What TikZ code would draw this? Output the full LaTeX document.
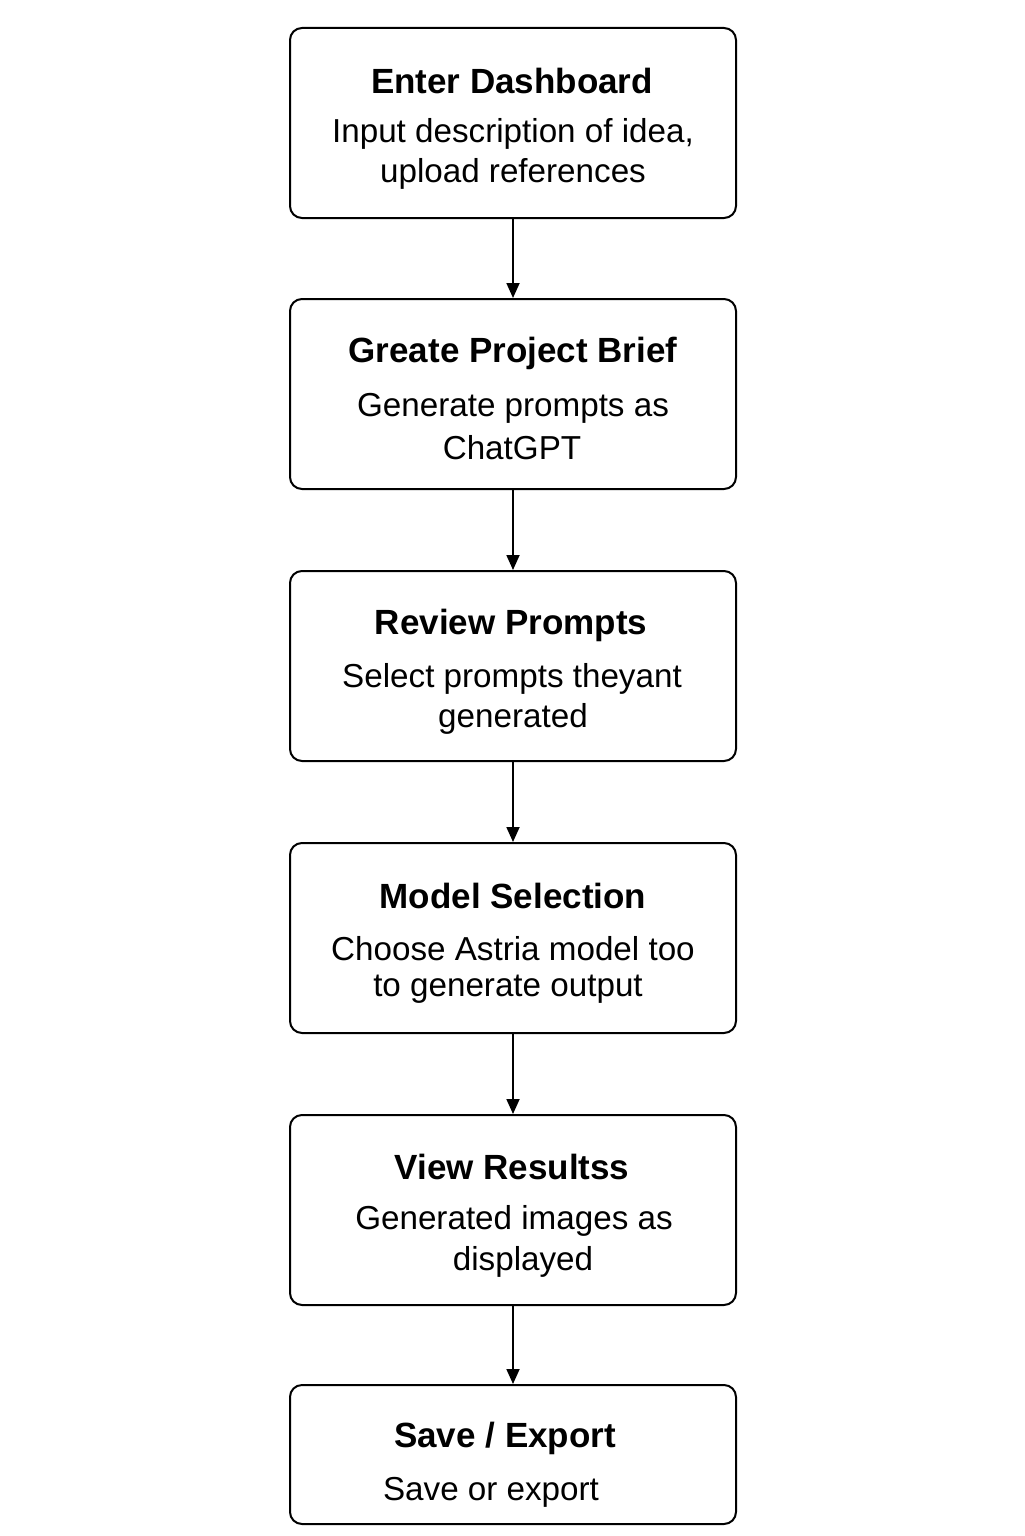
\documentclass[tikz,border=0pt]{standalone}
\usepackage{fontspec}
\setmainfont{Liberation Sans}
\usetikzlibrary{arrows.meta}
\begin{document}
\begin{tikzpicture}[x=0.5pt,y=-0.5pt,
  stepbox/.style={draw=black,line width=1pt,rounded corners=6pt,minimum width=223pt,anchor=north west,inner sep=0pt},
  ttl/.style={font=\fontsize{17.5}{20}\selectfont\bfseries,inner sep=0pt},
  txt/.style={font=\fontsize{16.6}{19}\selectfont,inner sep=0pt,yshift=-1.5pt},
  conn/.style={line width=0.9pt,-{Triangle[length=7.5pt,width=6.5pt]}}]
\useasboundingbox (0,0) rectangle (1024,1536);
\fill[white] (0,0) rectangle (1024,1536);
% boxes
\node[stepbox,minimum height=95pt] (b1) at (289,27) {};
\node[stepbox,minimum height=95pt] (b2) at (289,298) {};
\node[stepbox,minimum height=95pt] (b3) at (289,570) {};
\node[stepbox,minimum height=95pt] (b4) at (289,842) {};
\node[stepbox,minimum height=95pt] (b5) at (289,1114) {};
\node[stepbox,minimum height=69.5pt] (b6) at (289,1384) {};
% texts
\node[ttl] (t1) at (512,81) {Enter Dashboard};
\node[txt] (l1a) at (513,131) {Input description of idea,};
\node[txt] (l1b) at (513,171) {upload references};
\node[ttl] (t2) at (513,353) {Greate Project Brief};
\node[txt] (l2a) at (513,405) {Generate prompts as};
\node[txt] (l2b) at (512,445) {ChatGPT};
\node[ttl] (t3) at (511,625) {Review Prompts};
\node[txt] (l3a) at (512,676) {Select prompts theyant};
\node[txt] (l3b) at (513,716) {generated};
\node[ttl] (t4) at (513,896) {Model Selection};
\node[txt] (l4a) at (513,946) {Choose Astria model too};
\node[txt] (l4b) at (508,986) {to generate output};
\node[ttl] (t5) at (512,1167) {View Resultss};
\node[txt] (l5a) at (514,1218) {Generated images as};
\node[txt] (l5b) at (523,1259) {displayed};
\node[ttl] (t6) at (505,1438) {Save / Export};
\node[txt] (l6a) at (491,1489) {Save or export};
% connectors
\draw[conn] (b1.south) -- (b2.north);
\draw[conn] (b2.south) -- (b3.north);
\draw[conn] (b3.south) -- (b4.north);
\draw[conn] (b4.south) -- (b5.north);
\draw[conn] (b5.south) -- (b6.north);
\end{tikzpicture}
\end{document}
